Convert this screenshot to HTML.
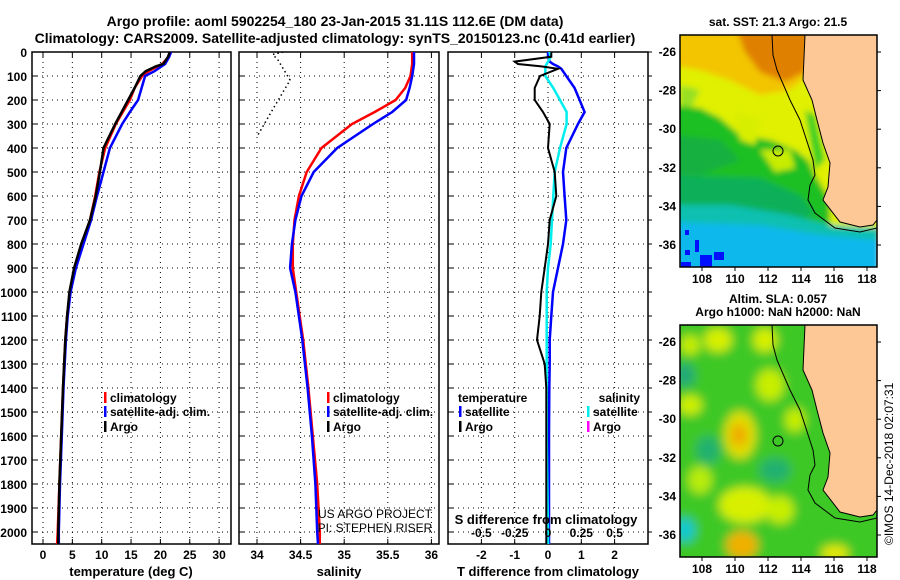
<!DOCTYPE html>
<html><head><meta charset="utf-8">
<style>
html,body{margin:0;padding:0;background:#fff;}
svg{display:block;font-family:"Liberation Sans",sans-serif;font-weight:bold;}
</style></head>
<body>
<svg id="fig" width="900" height="580" viewBox="0 0 900 580">
<defs>
<clipPath id="cp1"><rect x="32" y="52" width="199" height="492"/></clipPath>
<clipPath id="cp2"><rect x="239" y="52" width="200" height="492"/></clipPath>
<clipPath id="cp3"><rect x="448" y="52" width="200" height="492"/></clipPath>
<clipPath id="cpm1"><rect x="680" y="35" width="197" height="232"/></clipPath>
<clipPath id="cpm2"><rect x="680" y="325" width="197" height="232"/></clipPath>
<filter id="bl" x="-10%" y="-10%" width="120%" height="120%"><feGaussianBlur stdDeviation="3"/></filter>
<filter id="bl2" x="-10%" y="-10%" width="120%" height="120%"><feGaussianBlur stdDeviation="5"/></filter>
</defs>
<text x="335" y="26" font-size="14" text-anchor="middle">Argo profile: aoml 5902254_180 23-Jan-2015 31.11S 112.6E (DM data)</text>
<text x="335" y="43" font-size="14" text-anchor="middle">Climatology: CARS2009. Satellite-adjusted climatology: synTS_20150123.nc (0.41d earlier)</text>
<g id="grids"></g>
<g id="series"></g>
<g id="labels"></g>

<!-- top map -->
<text x="778" y="26" font-size="12" text-anchor="middle">sat. SST: 21.3 Argo: 21.5</text>
<g clip-path="url(#cpm1)">
 <g filter="url(#bl)">
  <rect x="670" y="25" width="220" height="260" fill="#e0f000"/>
  <polygon points="670,25 820,25 815,70 790,90 760,95 730,80 700,70 670,65" fill="#f3c400"/>
  <polygon points="735,25 812,25 805,72 785,82 760,72 745,52" fill="#e08000"/>
  <polygon points="680,85 700,90 690,110 680,105" fill="#98e020"/>
  <polygon points="670,105 700,108 720,118 740,135 770,140 795,150 808,160 815,175 830,200 830,290 670,290" fill="#1cc020"/>
  <polygon points="735,112 760,120 755,145 740,140" fill="#d8ee00"/>
  <polygon points="760,150 790,150 795,168 775,172" fill="#c8ec00"/>
  <polygon points="670,135 720,140 740,160 700,175 670,175" fill="#14b040"/>
  <polygon points="805,110 815,115 825,160 815,170" fill="#30d020"/>
  <polygon points="670,175 760,178 800,195 815,215 780,222 720,215 670,215" fill="#10b058"/>
  <polygon points="670,205 730,205 790,215 830,225 880,228 880,290 670,290" fill="#10c0b0"/>
  <polygon points="670,222 760,225 820,235 880,240 880,290 670,290" fill="#10b8ec"/>
 </g>
 <rect x="685" y="250" width="5" height="5" fill="#0010ff"/><rect x="695" y="240" width="4" height="12" fill="#0010ff"/>
 <rect x="700" y="255" width="12" height="12" fill="#0010ff"/><rect x="714" y="252" width="10" height="8" fill="#0010ff"/>
 <rect x="681" y="262" width="10" height="5" fill="#0010ff"/><rect x="685" y="230" width="4" height="5" fill="#0010ff"/>
 <polygon points="805,35 812,35 815,55 810,60" fill="#ff0000"/>
 <polygon points="805,35 877,35 877,220 873,225 860,227 840,222 823,200 828,187 830,163 823,143 817,120 812,100 803,80" fill="#fdc896" stroke="#000" stroke-width="1"/>
 <polyline points="772,35 773,55 777,70 790,100 800,120 813,160 815,175 810,185 808,200 815,213 835,228 860,232 877,228" fill="none" stroke="#000" stroke-width="1"/>
 <circle cx="778" cy="151" r="5" fill="none" stroke="#000" stroke-width="1"/>
</g>
<rect x="680" y="35" width="197" height="232" fill="none" stroke="#000" stroke-width="1.5"/>

<!-- bottom map -->
<text x="778" y="303" font-size="12" text-anchor="middle">Altim. SLA: 0.057</text>
<text x="778" y="316" font-size="12" text-anchor="middle">Argo h1000: NaN h2000: NaN</text>
<g clip-path="url(#cpm2)">
 <g filter="url(#bl2)">
  <rect x="670" y="315" width="220" height="260" fill="#3cc828"/>
  <ellipse cx="718" cy="340" rx="14" ry="12" fill="#d8f000"/>
  <ellipse cx="765" cy="340" rx="12" ry="12" fill="#d8f000"/>
  <ellipse cx="685" cy="375" rx="10" ry="12" fill="#20a878"/>
  <ellipse cx="770" cy="385" rx="14" ry="16" fill="#c8ee00"/>
  <ellipse cx="690" cy="405" rx="12" ry="10" fill="#d0f000"/>
  <ellipse cx="740" cy="435" rx="16" ry="24" fill="#e0e000"/>
  <ellipse cx="739" cy="435" rx="8" ry="12" fill="#f0a800"/>
  <ellipse cx="708" cy="450" rx="12" ry="14" fill="#20b070"/>
  <ellipse cx="795" cy="420" rx="10" ry="12" fill="#c8ee00"/>
  <ellipse cx="775" cy="470" rx="16" ry="12" fill="#20b070"/>
  <ellipse cx="745" cy="505" rx="26" ry="18" fill="#d8f000"/>
  <ellipse cx="742" cy="545" rx="16" ry="14" fill="#f0b000"/>
  <ellipse cx="685" cy="530" rx="10" ry="12" fill="#10c8d0"/>
  <ellipse cx="780" cy="510" rx="14" ry="14" fill="#c8ee00"/>
  <ellipse cx="835" cy="553" rx="14" ry="8" fill="#e8e800"/>
  <ellipse cx="700" cy="480" rx="12" ry="14" fill="#b8ec10"/>
  <ellipse cx="690" cy="345" rx="10" ry="10" fill="#c8ee00"/>
 </g>
 <polygon points="805,325 877,325 877,510 873,515 860,517 840,512 823,490 828,477 830,453 823,433 817,410 812,390 803,370" fill="#fdc896" stroke="#000" stroke-width="1"/>
 <polyline points="772,325 773,345 777,360 790,390 800,410 813,450 815,465 810,475 808,490 815,503 835,518 860,522 877,518" fill="none" stroke="#000" stroke-width="1"/>
 <circle cx="778" cy="441" r="5" fill="none" stroke="#000" stroke-width="1"/>
</g>
<rect x="680" y="325" width="197" height="232" fill="none" stroke="#000" stroke-width="1.5"/>
<text transform="translate(893,545) rotate(-90)" font-size="12" font-weight="normal">©IMOS 14-Dec-2018 02:07:31</text>
<g id="maplabels"></g>
</svg>
<script>
// ===== data =====
var depthTicks = [0,100,200,300,400,500,600,700,800,900,1000,1100,1200,1300,1400,1500,1600,1700,1800,1900,2000];
var tempTicks = [0,5,10,15,20,25,30];
var salTicks = ["34","34.5","35","35.5","36"];
var tdiffTicks = ["-2","-1","0","1","2"];
var sdiffTicks = ["-0.5","-0.25","0","0.25","0.5"];
var lonTicks = [108,110,112,114,116,118];
var latTicks = [-26,-28,-30,-32,-34,-36];

var depthT = [0,20,50,60,80,100,150,200,250,300,400,500,600,700,800,900,1000,1100,1200,1400,1600,1800,2000,2050];
var argoT  = [21.6,21.3,20.5,19.2,17.5,16.6,15.6,14.5,13.4,12.3,10.3,9.7,9.0,8.0,6.5,5.3,4.5,4.1,3.8,3.4,3.1,2.8,2.6,2.6];
var climT  = [21.8,21.4,20.3,19.5,18.0,16.9,15.6,14.8,13.6,12.4,10.6,9.6,8.9,8.0,6.6,5.4,4.6,4.1,3.8,3.4,3.1,2.8,2.5,2.4];
var satT   = [21.8,21.5,20.8,20.2,19.0,17.4,16.8,16.2,14.8,13.5,11.4,10.3,9.2,8.2,6.9,5.6,4.7,4.2,3.9,3.5,3.2,2.9,2.7,2.7];

var depthS = [0,50,100,150,200,250,300,400,500,600,700,800,900,1000,1200,1400,1600,1800,2000,2050];
var climS  = [35.78,35.78,35.76,35.70,35.59,35.35,35.09,34.74,34.57,34.48,34.43,34.41,34.41,34.45,34.53,34.59,34.64,34.69,34.72,34.72];
var satS   = [35.80,35.80,35.78,35.75,35.71,35.55,35.33,34.92,34.65,34.51,34.44,34.40,34.38,34.44,34.52,34.58,34.63,34.67,34.69,34.70];
var depthArgoS = [0,10,33,117,221,346];
var argoS  = [34.30,34.18,34.24,34.38,34.21,34.01];

var depthD = [0,20,40,50,60,70,100,150,200,250,300,400,500,600,700,800,900,1000,1100,1200,1300,1400,1600,1800,2000,2050];
var argoDT = [0.1,0.1,-1.0,-0.9,-0.2,0.3,-0.24,-0.4,-0.4,-0.15,0.05,0.0,0.2,0.25,0.05,0.0,-0.1,-0.2,-0.25,-0.33,-0.1,-0.05,-0.05,-0.05,-0.05,-0.05];
var satDT  = [0,0,0.05,0.15,0.3,0.4,0.55,0.8,0.95,1.1,0.9,0.55,0.45,0.5,0.55,0.45,0.3,0.15,0.1,0.05,0.05,0.04,0.03,0.03,0.03,0.03];
var satDS  = [0.01,0.02,0.0,-0.01,-0.02,-0.02,-0.02,0.04,0.09,0.14,0.14,0.09,0.05,0.04,0.03,0.02,0.0,-0.01,-0.01,-0.01,-0.01,-0.01,-0.01,-0.005,0,0];

// ===== scales =====
function yD(d){return 52 + d*0.24;}
function xT(t){return 43 + t*5.87;}
function xS(s){return 257 + (s-34)*87.2;}
function xDT(t){return 548 + t*33.3;}
function xDS(s){return 548 + s*133.2;}
function xLon(l){return 702 + (l-108)*16.5;}
function yLat1(l){return 52 + (-26-l)*19.3;}
function yLat2(l){return 342 + (-26-l)*19.3;}

var NS="http://www.w3.org/2000/svg";
function mk(tag,parent){var e=document.createElementNS(NS,tag);parent.appendChild(e);return e;}
var G=document.getElementById('grids'),S=document.getElementById('series'),L=document.getElementById('labels'),ML=document.getElementById('maplabels');

var panels=[{x0:32,x1:231,clip:'cp1'},{x0:239,x1:439,clip:'cp2'},{x0:448,x1:648,clip:'cp3'}];
panels.forEach(function(p,i){
  var r=mk('rect',G);
  r.setAttribute('x',p.x0);r.setAttribute('y',52);r.setAttribute('width',p.x1-p.x0);r.setAttribute('height',492);
  r.setAttribute('fill','none');r.setAttribute('stroke','#000');r.setAttribute('stroke-width','1.5');
  
  
  depthTicks.forEach(function(d){
    var l=mk('line',G);
    l.setAttribute('x1',p.x0);l.setAttribute('x2',p.x1);l.setAttribute('y1',yD(d));l.setAttribute('y2',yD(d));
    l.setAttribute('stroke','#000');l.setAttribute('stroke-dasharray','1,4');
    
    
    var t=mk('line',G);
    t.setAttribute('x1',p.x0);t.setAttribute('x2',p.x0+5);t.setAttribute('y1',yD(d));t.setAttribute('y2',yD(d));t.setAttribute('stroke','#000');
    
    
    if(i==2){var t2=mk('line',G);t2.setAttribute('x1',p.x1);t2.setAttribute('x2',p.x1+4);t2.setAttribute('y1',yD(d));t2.setAttribute('y2',yD(d));t2.setAttribute('stroke','#000');
    
    }
  });
});
depthTicks.forEach(function(d){
  var t=mk('text',L);t.setAttribute('x',27);t.setAttribute('y',yD(d)+5);t.setAttribute('text-anchor','end');t.setAttribute('font-size','12');t.textContent=d;
  
  
});
function vgrid(xs,labels,xf,name,y){
  xs.forEach(function(v,k){
    var x=xf(parseFloat(v));
    var l=mk('line',G);l.setAttribute('x1',x);l.setAttribute('x2',x);l.setAttribute('y1',52);l.setAttribute('y2',544);
    l.setAttribute('stroke','#000');l.setAttribute('stroke-dasharray','1,4');
    
    
    var tk=mk('line',G);tk.setAttribute('x1',x);tk.setAttribute('x2',x);tk.setAttribute('y1',544);tk.setAttribute('y2',539);tk.setAttribute('stroke','#000');
    
    
    var tk2=mk('line',G);tk2.setAttribute('x1',x);tk2.setAttribute('x2',x);tk2.setAttribute('y1',52);tk2.setAttribute('y2',57);tk2.setAttribute('stroke','#000');
    
    
    var t=mk('text',L);t.setAttribute('x',x);t.setAttribute('y',y);t.setAttribute('text-anchor','middle');t.setAttribute('font-size','12');t.textContent=labels[k];
    
    
  });
}
vgrid(tempTicks,tempTicks,xT,'temperature',559);
vgrid(salTicks,salTicks,xS,'salinity',559);
vgrid(tdiffTicks,tdiffTicks,xDT,'tdiff',559);
sdiffTicks.forEach(function(v){
  var t=mk('text',L);t.setAttribute('x',xDS(parseFloat(v)));t.setAttribute('y',537);t.setAttribute('text-anchor','middle');t.setAttribute('font-size','12');t.textContent=v;
  
  
});
function lbl(x,y,txt,name,size,anchor,weight){var t=mk('text',L);t.setAttribute('x',x);t.setAttribute('y',y);t.setAttribute('font-size',size||13);t.setAttribute('text-anchor',anchor||'middle');if(weight)t.setAttribute('font-weight',weight);t.textContent=txt;
  
  return t;}
lbl(131,576,'temperature (deg C)','temperature-axis-title');
lbl(339,576,'salinity','salinity-axis-title');
lbl(548,576,'T difference from climatology','tdiff-axis-title');
lbl(546,524,'S difference from climatology','sdiff-axis-title');
lbl(375,518,'US ARGO PROJECT','project-credit',12,'middle','normal');
lbl(375,532,'PI: STEPHEN RISER','pi-credit',12,'middle','normal');

function line(ds,vs,xf,color,w,clip,name,dash){
  var g=mk('g',S);g.setAttribute('clip-path','url(#'+clip+')');
  var pl=mk('polyline',g);
  pl.setAttribute('points',ds.map(function(d,k){return xf(vs[k]).toFixed(1)+','+yD(d).toFixed(1);}).join(' '));
  pl.setAttribute('fill','none');pl.setAttribute('stroke',color);pl.setAttribute('stroke-width',w);
  if(dash)pl.setAttribute('stroke-dasharray',dash);
  
  
}
line(depthT,climT,xT,'#ff0000',2.5,'cp1','climatology-temperature-line');
line(depthT,satT,xT,'#0000ff',2.5,'cp1','satellite-temperature-line');
line(depthT,argoT,xT,'#000000',2.5,'cp1','argo-temperature-line');
line(depthS,climS,xS,'#ff0000',2.5,'cp2','climatology-salinity-line');
line(depthS,satS,xS,'#0000ff',2.5,'cp2','satellite-salinity-line');
line(depthArgoS,argoS,xS,'#000000',1.5,'cp2','argo-salinity-line','1.5,3');
line(depthD,satDT,xDT,'#0000ff',2.5,'cp3','satellite-temperature-diff-line');
line(depthD,satDS,xDS,'#00eeee',2.5,'cp3','satellite-salinity-diff-line');
line(depthD,argoDT,xDT,'#000000',2,'cp3','argo-temperature-diff-line');

function legend(x,y,color,txt,name){
  var r=mk('rect',L);r.setAttribute('x',x);r.setAttribute('y',y-10);r.setAttribute('width',2.5);r.setAttribute('height',11);r.setAttribute('fill',color);
  
  
  var t=lbl(x+6,y,txt,name,12,'start','normal');t.setAttribute('font-weight','bold');
}
legend(104,402,'#ff0000','climatology','legend-climatology');
legend(104,416,'#0000ff','satellite-adj. clim.','legend-satellite');
legend(104,431,'#000000','Argo','legend-argo');
legend(327,402,'#ff0000','climatology','legend-sal-climatology');
legend(327,416,'#0000ff','satellite-adj. clim.','legend-sal-satellite');
legend(327,431,'#000000','Argo','legend-sal-argo');
lbl(458,402,'temperature','legend-temperature-header',12,'start');
legend(459,416,'#0000ff','satellite','legend-t-satellite');
legend(459,431,'#000000','Argo','legend-t-argo');
lbl(640,402,'salinity','legend-salinity-header',12,'end');
legend(587,416,'#00eeee','satellite','legend-s-satellite');
legend(587,431,'#ff00ff','Argo','legend-s-argo');

// map axes
[[yLat1,267],[yLat2,557]].forEach(function(m,mi){
  lonTicks.forEach(function(l){
    var x=xLon(l);
    var t=lbl(x,m[1]+16,String(l),'map-lon-label',12);
    var tk=mk('line',ML);tk.setAttribute('x1',x);tk.setAttribute('x2',x);tk.setAttribute('y1',m[1]);tk.setAttribute('y2',m[1]+4);tk.setAttribute('stroke','#000');
    
    
  });
  latTicks.forEach(function(l){
    var y=m[0](l);
    lbl(676,y+4,String(l),'map-lat-label',12,'end');
    var tk=mk('line',ML);tk.setAttribute('x1',877);tk.setAttribute('x2',881);tk.setAttribute('y1',y);tk.setAttribute('y2',y);tk.setAttribute('stroke','#000');
    
    
  });
});
</script>
</body></html>
